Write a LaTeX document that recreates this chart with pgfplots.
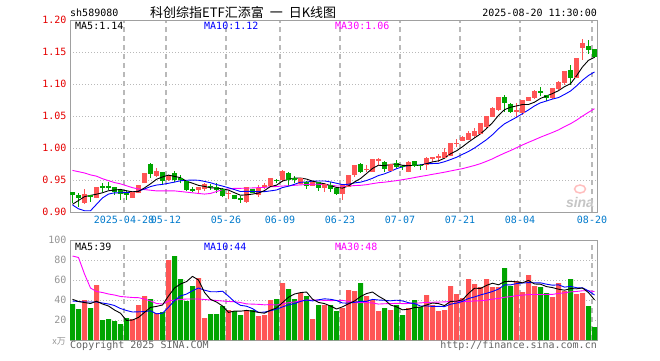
\documentclass[border=0pt]{standalone}
\usepackage{fontspec}
\setmainfont{DejaVu Sans Mono}
\newfontfamily\cjk{Noto Sans CJK SC}
\newfontfamily\sansf{Liberation Sans}
\usepackage{pgfplots}
\usepackage{pgfplotstable}
\pgfplotsset{compat=1.18}
\definecolor{cR}{RGB}{255,85,85}
\definecolor{cG}{RGB}{0,165,0}
\definecolor{cB}{RGB}{0,0,255}
\definecolor{cM}{RGB}{255,0,255}
\definecolor{cDate}{RGB}{0,122,204}
\definecolor{cFrame}{RGB}{160,160,160}
\definecolor{cGrid}{RGB}{185,185,185}
\definecolor{cPriceLab}{RGB}{230,0,0}
\definecolor{cVolLab}{RGB}{150,150,150}
\definecolor{cFoot}{RGB}{100,100,100}

\pgfplotstableread{
i O H L C V
2 .9146 .9355 .9125 .9266 40
4 .9230 .9397 .9214 .9387 55
10 .9230 .9318 .9225 .9303 21
11 .9303 .9423 .9293 .9418 35
12 .9465 .9606 .9449 .9595 44
14 .9564 .9684 .9554 .9632 27
16 .9512 .9580 .9491 .9554 80
21 .9345 .9397 .9277 .9381 62
22 .9371 .9449 .9334 .9423 22
26 .9282 .9334 .9199 .9293 30
29 .9162 .9397 .9146 .9387 30
31 .9266 .9423 .9240 .9371 24
32 .9403 .9449 .9355 .9412 25
33 .9408 .9538 .9387 .9517 40
35 .9502 .9658 .9475 .9632 57
38 .9449 .9528 .9439 .9517 47
40 .9412 .9475 .9403 .9465 21
42 .9387 .9449 .9318 .9423 35
45 .9282 .9439 .9188 .9412 32
46 .9397 .9580 .9384 .9564 50
47 .9591 .9737 .9553 .9726 49
49 .9658 .9737 .9632 .9669 44
50 .9632 .9826 .9627 .9815 40
51 .9807 .9842 .9737 .9815 29
53 .9647 .9742 .9635 .9737 30
56 .9632 .9792 .9619 .9779 32
59 .9737 .9867 .9658 .9842 45
60 .9836 .9867 .9788 .9846 35
61 .9851 .9904 .9788 .9862 29
62 .9857 .9998 .9842 .9929 30
63 .9882 1.0070 .9870 1.0066 54
64 1.0071 1.0144 1.0014 1.0077 46
65 1.0113 1.0180 1.0102 1.0165 42
66 1.0139 1.0259 1.0129 1.0223 61
67 1.0196 1.0312 1.0155 1.0259 56
68 1.0234 1.0395 1.0223 1.0379 53
69 1.0337 1.0505 1.0312 1.0494 61
70 1.0494 1.0646 1.0481 1.0625 53
71 1.0599 1.0803 1.0583 1.0792 53
74 1.0575 1.0704 1.0478 1.0591 59
75 1.0547 1.0748 1.0520 1.0740 48
76 1.0745 1.0803 1.0740 1.0792 65
77 1.0792 1.0912 1.0771 1.0886 54
80 1.0782 1.0939 1.0771 1.0928 43
81 1.0928 1.1053 1.0912 1.1017 57
82 1.1017 1.1210 1.0991 1.1199 49
84 1.1096 1.1398 1.1092 1.1393 46
85 1.1575 1.1696 1.1382 1.1629 47
}\redT

\pgfplotstableread{
i O H L C V
0 .9309 .9309 .9136 .9266 36
1 .9256 .9293 .9084 .9230 31
3 .9256 .9266 .9162 .9240 32
5 .9397 .9449 .9318 .9381 20
6 .9397 .9475 .9345 .9387 21
7 .9387 .9387 .9266 .9318 19
8 .9329 .9345 .9188 .9293 16
9 .9293 .9345 .9188 .9277 22
13 .9736 .9773 .9527 .9606 41
15 .9622 .9622 .9423 .9491 28
17 .9595 .9642 .9475 .9501 84
18 .9527 .9580 .9449 .9501 61
19 .9475 .9491 .9334 .9355 39
20 .9355 .9397 .9318 .9340 54
23 .9403 .9434 .9345 .9392 26
24 .9384 .9449 .9293 .9353 26
25 .9345 .9371 .9230 .9251 34
27 .9256 .9266 .9199 .9215 29
28 .9204 .9251 .9146 .9196 25
30 .9345 .9353 .9298 .9309 30
34 .9494 .9517 .9459 .9486 41
36 .9596 .9632 .9412 .9502 51
37 .9522 .9564 .9459 .9513 41
39 .9465 .9491 .9361 .9412 44
41 .9465 .9475 .9334 .9387 35
43 .9408 .9475 .9309 .9361 35
44 .9361 .9368 .9266 .9282 29
48 .9737 .9773 .9616 .9632 57
52 .9779 .9792 .9632 .9685 32
54 .9763 .9815 .9685 .9710 35
55 .9713 .9737 .9658 .9705 25
57 .9788 .9792 .9705 .9721 40
58 .9732 .9748 .9658 .9726 33
72 1.0792 1.0823 1.0563 1.0704 72
73 1.0677 1.0704 1.0547 1.0572 54
78 1.0881 1.0955 1.0807 1.0865 53
79 1.0818 1.0818 1.0729 1.0782 47
83 1.1210 1.1304 1.0991 1.1096 61
86 1.1581 1.1680 1.1472 1.1539 34
87 1.1539 1.1539 1.1409 1.1434 13
}\greenT

\pgfplotstableread{
i m5 m10 m30
0 .912 .911 .965
1 .918 .905 .963
2 .924 .902 .961
3 .926 .902 .958
4 .9278 .912 .956
5 .9301 .922 .952
6 .9332 .928 .949
7 .9343 .930 .946
8 .9353 .930 .944
9 .9331 .9305 .941
10 .9316 .9308 .938
11 .9322 .9327 .936
12 .9377 .9360 .935
13 .9440 .9397 .934
14 .9511 .9421 .933
15 .9548 .9432 .933
16 .9576 .9449 .933
17 .9557 .9467 .933
18 .9536 .9488 .932
19 .9480 .9496 .931
20 .9450 .9499 .930
21 .9416 .9496 .929
22 .9400 .9478 .928
23 .9378 .9457 .929
24 .9378 .9429 .932
25 .9360 .9405 .935
26 .9342 .9379 .936
27 .9301 .9350 .937
28 .9262 .9320 .937
29 .9268 .9323 .9374
30 .9280 .9320 .9376
31 .9296 .9319 .9381
32 .9335 .9318 .9385
33 .9399 .9330 .9395
34 .9419 .9344 .9398
35 .9484 .9382 .9406
36 .9510 .9403 .9410
37 .9530 .9433 .9417
38 .9530 .9465 .9424
39 .9515 .9467 .9429
40 .9482 .9483 .9434
41 .9459 .9484 .9433
42 .9441 .9485 .9427
43 .9410 .9470 .9419
44 .9384 .9449 .9407
45 .9373 .9427 .9405
46 .9408 .9434 .9405
47 .9469 .9455 .9413
48 .9523 .9466 .9417
49 .9601 .9492 .9427
50 .9681 .9527 .9443
51 .9731 .9570 .9458
52 .9723 .9596 .9466
53 .9744 .9634 .9478
54 .9752 .9677 .9490
55 .9730 .9706 .9505
56 .9723 .9727 .9521
57 .9730 .9727 .9538
58 .9728 .9736 .9556
59 .9755 .9754 .9571
60 .9783 .9757 .9589
61 .9799 .9761 .9605
62 .9841 .9786 .9622
63 .9909 .9819 .9641
64 .9956 .9855 .9660
65 1.0020 .9901 .9678
66 1.0092 .9946 .9702
67 1.0158 1.0000 .9727
68 1.0221 1.0065 .9756
69 1.0304 1.0130 .9792
70 1.0396 1.0208 .9831
71 1.0510 1.0301 .9877
72 1.0599 1.0378 .9920
73 1.0637 1.0429 .9960
74 1.0657 1.0480 1.0004
75 1.0680 1.0538 1.0048
76 1.0680 1.0595 1.0089
77 1.0716 1.0658 1.0128
78 1.0775 1.0706 1.0169
79 1.0813 1.0735 1.0206
80 1.0851 1.0765 1.0243
81 1.0896 1.0788 1.0283
82 1.0958 1.0837 1.0334
83 1.1004 1.0890 1.0379
84 1.1127 1.0970 1.0435
85 1.1267 1.1059 1.0499
86 1.1371 1.1133 1.0558
87 1.1418 1.1188 1.0615
}\maP

\pgfplotstableread{
i v5 v10 v30
0 40.7 39 84
1 38.5 38.5 82.5
2 37.5 38 66
3 36.5 38 52
4 38.8 38 48.5
5 36 37 47.5
6 34 36 46
7 30 34.5 45
8 26.8 31.5 43.5
9 19.6 29.5 43
10 20 28 42.5
11 22.6 28.2 42.3
12 27.6 28.4 41
13 32.6 29.2 39
14 33.6 26.2 36.5
15 35 26.8 36
16 44 32.8 39
17 52 39.4 40
18 56 44.1 40.5
19 58.4 45.9 41
20 63.6 49.3 41
21 60 52 41
22 47.6 49.8 40.5
23 40.6 48.3 40
24 38 48.2 39.5
25 34 48.8 39
26 27.6 43.8 38.5
27 29 38.3 38.3
28 28.8 34.7 37.5
29 29.6 33.8 36.1
30 28.8 31.4 35.9
31 27.6 27.6 35.67
32 26.8 27.9 35.17
33 29.8 29.3 35.43
34 32 30.8 34.97
35 37.4 33.1 36.23
36 42.8 35.2 37.27
37 46 36.4 38.03
38 47.4 38.6 39.13
39 48 40 39.9
40 40.8 39.1 39.93
41 37.6 40.2 39.93
42 36.4 41.2 39.63
43 34 40.7 39.43
44 31 39.5 39.5
45 33.2 37 39.63
46 36.2 36.9 38.63
47 39 37.7 37.47
48 43.4 38.7 37.33
49 46.4 38.7 37.5
50 48 40.6 37.03
51 43.8 40 35.93
52 40.4 39.7 36.27
53 35 39.2 36.4
54 33.2 39.8 36.7
55 30.2 39.1 36.4
56 30.8 37.3 36.47
57 32.4 36.4 36.83
58 33 34 37.1
59 35 34.1 37.6
60 37 33.6 37.77
61 36.4 33.6 37.93
62 34.4 33.4 38.1
63 38.6 35.8 38.57
64 38.8 36.9 38.73
65 40.2 38.6 38.23
66 46.6 41.5 38.57
67 51.8 43.1 39.07
68 51.6 45.1 39.27
69 54.6 46.7 39.83
70 56.8 48.5 40.9
71 55.2 50.9 41.5
72 58.4 55.1 42.73
73 58.6 55.1 43.37
74 58.2 56.4 44.37
75 57.2 57 44.9
76 59.6 57.4 45.4
77 56 57.2 45.57
78 55.8 57.2 45.43
79 53.4 55.8 45.53
80 52.4 54.8 45.63
81 50.8 55.2 46.57
82 49.8 52.9 47.13
83 51.4 53.6 48.17
84 51.2 52.3 48.53
85 52 52.2 49.27
86 47.4 49.1 49.33
87 40.2 45 48.43
}\maV

\pgfplotsset{
  kbase/.style={
    scale only axis, width=527pt,
    xmin=-0.41667, xmax=87.41667,
    axis line style={draw=cFrame, line width=1pt},
    xtick={8.58333,15.58333,25.58333,34.58333,44.58333,54.58333,64.58333,74.58333,86.58333},
    major tick length=0pt,
    xmajorgrids, ymajorgrids,
    major x grid style={draw=cGrid, line width=1.1pt, dash pattern=on 5pt off 4pt},
    major y grid style={draw=cGrid, line width=0.9pt, dash pattern=on 1pt off 2pt},
    /pgf/number format/assume math mode=true,
    tick label style={font=\fontsize{10}{12}\selectfont},
  },
  wick/.style={draw=none, mark=none, forget plot,
    error bars/.cd, y dir=plus, y explicit, error mark=none,
    error bar style={draw=#1, solid, line width=1pt}},
  body/.style={draw=none, mark=none, forget plot,
    error bars/.cd, y dir=plus, y explicit, error mark=none,
    error bar style={draw=#1, solid, line width=5pt}},
  cap/.style={only marks, mark=-, mark size=2.5pt, forget plot,
    color=#1, line width=1pt},
}

\begin{document}
\begin{tikzpicture}[x=1pt,y=1pt]
\fill[white] (0,0) rectangle (660,360);

% ---------------- price panel ----------------
\begin{axis}[kbase, at={(70pt,148pt)}, anchor=south west, height=192pt,
  ymin=0.90, ymax=1.20,
  ytick={0.90,0.95,1.00,1.05,1.10,1.15,1.20},
  yticklabel={\pgfmathprintnumber[fixed,fixed zerofill,precision=2]{\tick}},
  yticklabel style={text=cPriceLab},
  xticklabels={2025-04-28,05-12,05-26,06-09,06-23,07-07,07-21,08-04,08-20},
  xticklabel style={text=cDate, yshift=-1pt},
]
\addplot[wick=cR] table[x=i, y=L, y error plus expr=\thisrow{H}-\thisrow{L}] {\redT};
\addplot[wick=cG] table[x=i, y=L, y error plus expr=\thisrow{H}-\thisrow{L}] {\greenT};
\addplot[body=cR] table[x=i, y=O, y error plus expr=\thisrow{C}-\thisrow{O}] {\redT};
\addplot[body=cG] table[x=i, y=C, y error plus expr=\thisrow{O}-\thisrow{C}] {\greenT};
\addplot[cap=cR] table[x=i, y=O] {\redT};
\addplot[cap=cR] table[x=i, y=C] {\redT};
\addplot[cap=cG] table[x=i, y=O] {\greenT};
\addplot[cap=cG] table[x=i, y=C] {\greenT};
\addplot[cM, line width=0.9pt, mark=none] table[x=i, y=m30] {\maP};
\addplot[cB, line width=0.9pt, mark=none] table[x=i, y=m10] {\maP};
\addplot[black, line width=0.9pt, mark=none] table[x=i, y=m5] {\maP};
\end{axis}

% ---------------- volume panel ----------------
\begin{axis}[kbase, at={(70pt,20pt)}, anchor=south west, height=100pt,
  ymin=0, ymax=100,
  ytick={20,40,60,80,100},
  yticklabel style={text=cVolLab},
  xticklabels={},
]
\addplot[ybar, bar width=5pt, bar shift=0pt, fill=cR, draw=none] table[x=i, y=V] {\redT};
\addplot[ybar, bar width=5pt, bar shift=0pt, fill=cG, draw=none] table[x=i, y=V] {\greenT};
\addplot[cM, line width=0.9pt, mark=none] table[x=i, y=v30] {\maV};
\addplot[cB, line width=0.9pt, mark=none] table[x=i, y=v10] {\maV};
\addplot[black, line width=0.9pt, mark=none] table[x=i, y=v5] {\maV};
\end{axis}

% ---------------- texts ----------------
\begin{scope}[every node/.style={inner sep=0pt, font=\fontsize{10}{12}\selectfont}]
\node[anchor=west] at (70,347) {sh589080};
\node[anchor=west, font=\cjk\fontsize{13}{13}\selectfont] at (150,347) {科创综指ETF汇添富\hspace{6pt}一\hspace{6pt}日K线图};
\node[anchor=east] at (597,347) {2025-08-20 11:30:00};
\node[anchor=west, text=black] at (75,334) {MA5:1.14};
\node[anchor=west, text=cB] at (204,334) {MA10:1.12};
\node[anchor=west, text=cM] at (335,334) {MA30:1.06};
\node[anchor=west, text=black] at (75,113) {MA5:39};
\node[anchor=west, text=cB] at (204,113) {MA10:44};
\node[anchor=west, text=cM] at (335,113) {MA30:48};
\node[anchor=east, text=cVolLab, font=\cjk\itshape\fontsize{9}{9}\selectfont] at (66,19) {x万};
\node[anchor=west, text=cFoot] at (70,14) {Copyright 2025 SINA.COM};
\node[anchor=east, text=cFoot] at (597,14) {http://finance.sina.com.cn};
\node[text=gray!45, font=\sansf\bfseries\itshape\fontsize{14}{14}\selectfont] at (580,158) {sina};
\draw[red!25, line width=1.5pt] (580,171) ellipse (5.5 and 4);
\end{scope}
\end{tikzpicture}
\end{document}
